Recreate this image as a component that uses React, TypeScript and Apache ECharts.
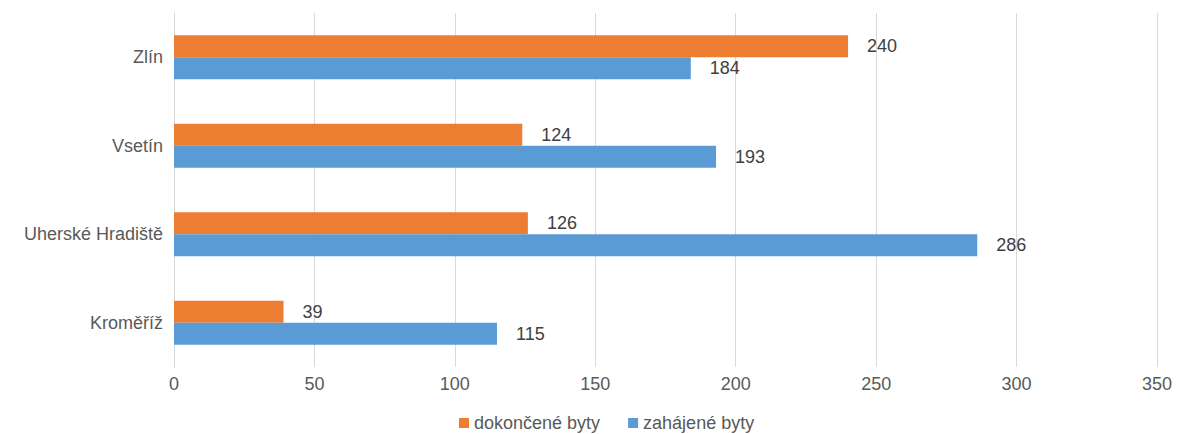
import React, { useEffect, useRef } from "react";
import * as echarts from "echarts";

const categories = ["Kroměříž", "Uherské Hradiště", "Vsetín", "Zlín"];
const dokoncene = [39, 126, 124, 240];
const zahajene = [115, 286, 193, 184];
const xTicks = [0, 50, 100, 150, 200, 250, 300, 350];

export default function App() {
  const ref = useRef<HTMLDivElement>(null);
  useEffect(() => {
    const chart = echarts.init(ref.current!, null, { renderer: "svg" });
    const font = "'Liberation Sans', Arial, sans-serif";
    chart.setOption({
      animation: false,
      textStyle: { fontFamily: font },
      grid: { left: 174, right: 20, top: 13, bottom: 67, containLabel: false },
      legend: {
        top: 409,
        left: 454,
        itemWidth: 10,
        itemHeight: 10,
        icon: "rect",
        itemGap: 28,
        itemTextGap: 4,
        textStyle: { fontSize: 18, color: "#595959", fontFamily: font },
        data: ["dokončené byty", "zahájené byty"],
      },
      xAxis: {
        type: "value",
        min: xTicks[0],
        max: xTicks[xTicks.length - 1],
        interval: 50,
        axisLine: { show: false },
        axisTick: { show: false },
        axisLabel: { color: "#595959", fontSize: 18, margin: 8, fontFamily: font },
        splitLine: { show: true, lineStyle: { color: "#d9d9d9", width: 1 } },
      },
      yAxis: {
        type: "category",
        data: categories,
        axisLine: { show: true, lineStyle: { color: "#d9d9d9" } },
        axisTick: { show: false },
        axisLabel: { color: "#595959", fontSize: 18, margin: 11, fontFamily: font },
      },
      series: [
        {
          name: "dokončené byty",
          type: "bar",
          data: dokoncene,
          barWidth: 22,
          barGap: "0%",
          itemStyle: { color: "#ed7d31" },
          label: {
            show: true,
            position: "right",
            distance: 19,
            color: "#404040",
            fontSize: 18,
            fontFamily: font,
          },
        },
        {
          name: "zahájené byty",
          type: "bar",
          data: zahajene,
          barWidth: 22,
          barGap: "0%",
          itemStyle: { color: "#5b9bd5" },
          label: {
            show: true,
            position: "right",
            distance: 19,
            color: "#404040",
            fontSize: 18,
            fontFamily: font,
          },
        },
      ],
    });
    return () => chart.dispose();
  }, []);
  return (
    <div
      ref={ref}
      style={{ position: "absolute", top: 0, left: 0, width: 1177, height: 434 }}
    />
  );
}
